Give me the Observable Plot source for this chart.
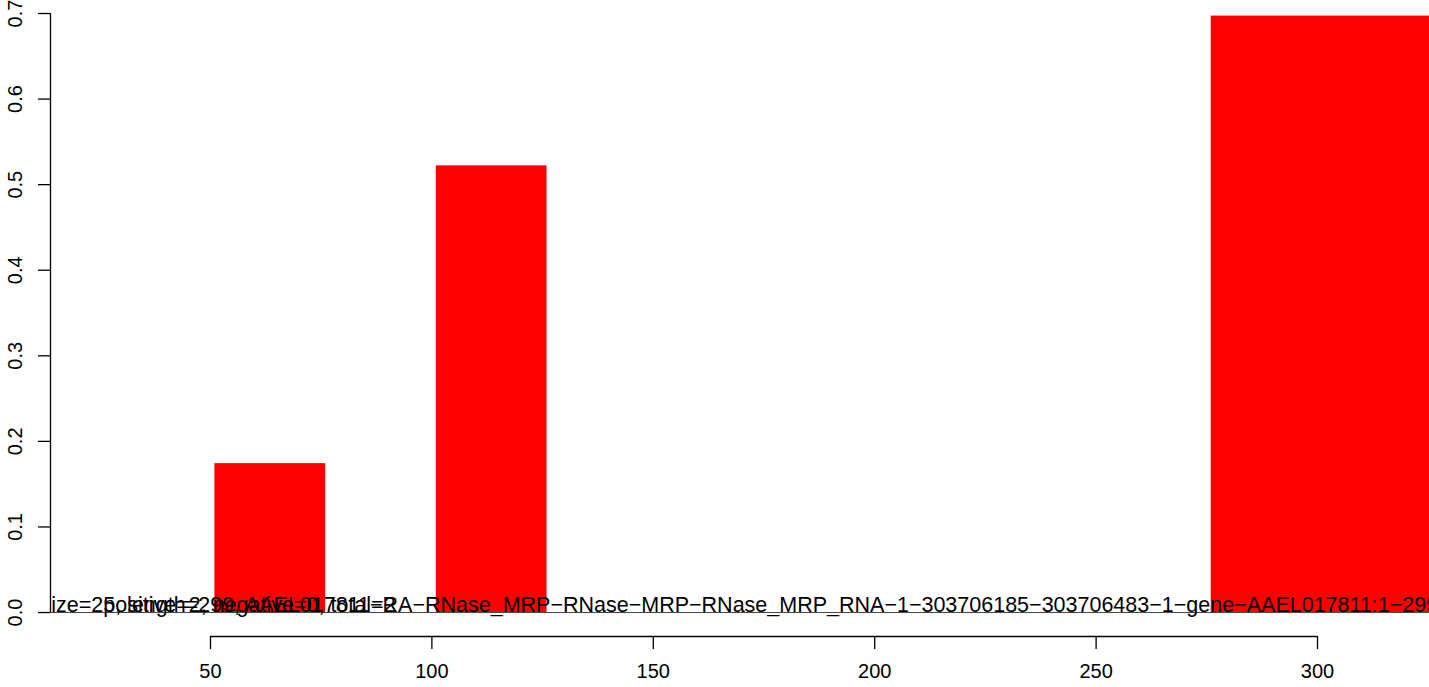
<!DOCTYPE html>
<html>
<head>
<meta charset="utf-8">
<script src="https://cdn.jsdelivr.net/npm/d3@7"></script>
<script src="https://cdn.jsdelivr.net/npm/@observablehq/plot@0.6"></script>
<style>
  html, body { margin: 0; padding: 0; background: #fff; }
  #chart svg { display: block; }
</style>
</head>
<body>
<div id="chart"></div>
<script>
// ---- data ----
const barStart = [51, 101, 276];
const barEnd   = [76, 126, 326];
const barValue = [0.174, 0.522, 0.697];

const xTicks = [50, 100, 150, 200, 250, 300];
const yTicks = [0, 0.1, 0.2, 0.3, 0.4, 0.5, 0.6, 0.7];

const labelText = [
  "size=25, length=299, AAEL017811\u2212RA\u2212RNase_MRP\u2212RNase\u2212MRP\u2212RNase_MRP_RNA\u22121\u2212303706185\u2212303706483\u22121\u2212gene\u2212AAEL017811:1\u2212299",
  "positive=2, negative=0, total=2"
];
const labelX = [11.6, 25.8];

// ---- build tables ----
const bars = barStart.map((s, i) => ({x1: s, x2: barEnd[i], y: barValue[i]}));
const labels = labelText.map((t, i) => ({x: labelX[i], text: t}));

const xDomain = [13.87, 325.29];
const yDomain = [-0.028, 0.7];
const font = "'Liberation Sans', Arial, Helvetica, sans-serif";

const chart = Plot.plot({
  width: 1429,
  height: 687,
  marginLeft: 50,
  marginRight: 0,
  marginTop: 13,
  marginBottom: 51,
  style: {fontFamily: font, fontSize: "20px", color: "#000", background: "#fff"},
  x: {domain: xDomain, axis: null},
  y: {domain: yDomain, axis: null},
  marks: [
    Plot.ruleY([0], {stroke: "#444", strokeWidth: 1, clip: "frame"}),
    Plot.rectY(bars, {x1: "x1", x2: "x2", y1: 0, y2: "y", fill: "#ff0000", clip: "frame"}),
    Plot.text(labels, {x: "x", y: 0, text: "text", textAnchor: "start", lineAnchor: "middle",
      dy: -7, fontSize: 21.5, fill: "#000", clip: "frame"}),
    // x axis
    Plot.ruleY([yDomain[0]], {x1: xTicks[0], x2: xTicks[xTicks.length - 1], stroke: "#000", strokeWidth: 1.3}),
    Plot.axisX({ticks: xTicks, tickSize: 13, tickPadding: 14, fontSize: 20, tickFormat: d3.format("d"),
      stroke: "#000", strokeWidth: 1.3, label: null}),
    // y axis
    Plot.ruleX([xDomain[0]], {y1: yTicks[0], y2: yTicks[yTicks.length - 1], stroke: "#000", strokeWidth: 1.3}),
    Plot.axisY({ticks: yTicks, tickSize: 12, tickFormat: () => "", stroke: "#000", strokeWidth: 1.3, label: null}),
    Plot.text(yTicks, {y: d => d, text: d => d3.format(".1f")(d), frameAnchor: "left", dx: -35,
      textAnchor: "middle", lineAnchor: "middle", rotate: -90, fontSize: 20, fill: "#000"})
  ]
});
document.getElementById("chart").appendChild(chart);
</script>
</body>
</html>
